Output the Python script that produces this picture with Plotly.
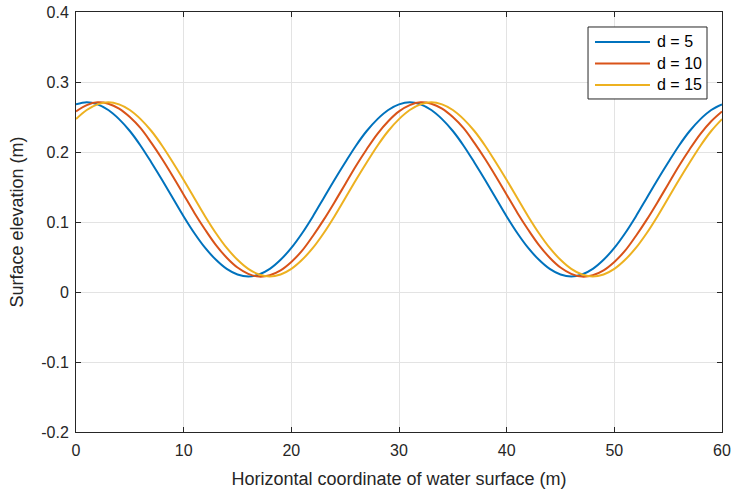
import plotly.graph_objects as go

x = list(range(0, 61))

# d = 5 (crest near x=1, 31)
d5_period = [0.268, 0.271, 0.268, 0.260, 0.247, 0.230, 0.209, 0.185, 0.160, 0.134,
             0.108, 0.084, 0.063, 0.046, 0.033, 0.025, 0.022, 0.025, 0.033, 0.046,
             0.063, 0.084, 0.108, 0.134, 0.160, 0.185, 0.209, 0.230, 0.247, 0.260]
# d = 10 (crest near x=2.2)
d10_period = [0.258, 0.267, 0.271, 0.269, 0.262, 0.250, 0.234, 0.213, 0.190, 0.165,
              0.139, 0.113, 0.089, 0.067, 0.049, 0.035, 0.026, 0.022, 0.024, 0.031,
              0.043, 0.059, 0.080, 0.103, 0.128, 0.154, 0.180, 0.204, 0.226, 0.244]
# d = 15 (crest near x=3)
d15_period = [0.247, 0.260, 0.268, 0.271, 0.268, 0.260, 0.247, 0.230, 0.209, 0.185,
              0.160, 0.134, 0.108, 0.084, 0.063, 0.046, 0.033, 0.025, 0.022, 0.025,
              0.033, 0.046, 0.063, 0.084, 0.108, 0.134, 0.160, 0.185, 0.209, 0.230]

eta_d5 = d5_period + d5_period + [d5_period[0]]
eta_d10 = d10_period + d10_period + [d10_period[0]]
eta_d15 = d15_period + d15_period + [d15_period[0]]

names = ["d = 5", "d = 10", "d = 15"]
colors = ["#0072BD", "#D95319", "#EDB120"]

xticks = [0, 10, 20, 30, 40, 50, 60]
yticks = [-0.2, -0.1, 0, 0.1, 0.2, 0.3, 0.4]
yticktext = ["-0.2", "-0.1", "0", "0.1", "0.2", "0.3", "0.4"]

FONT = "Liberation Sans, Arial, sans-serif"

fig = go.Figure()
for ys, nm, c in zip([eta_d5, eta_d10, eta_d15], names, colors):
    fig.add_trace(go.Scatter(x=x, y=ys, mode="lines", name=nm,
                             line=dict(color=c, width=2, shape="spline")))

axis_common = dict(showline=True, linecolor="#262626", linewidth=1, mirror="ticks",
                   ticks="inside", ticklen=5, tickcolor="#262626", automargin=False,
                   showgrid=True, gridcolor="#e3e3e3", gridwidth=1, zeroline=False,
                   tickfont=dict(family=FONT, size=16, color="#262626"))

# MATLAB-style legend box (paper coordinates)
leg_x0, leg_x1, leg_y0, leg_y1 = 0.7926, 0.9768, 0.7929, 0.9643
line_x0, line_x1, text_x = 0.8034, 0.8885, 0.8963
row_y = [0.9286, 0.8776, 0.8262]

shapes = [dict(type="rect", xref="paper", yref="paper", x0=leg_x0, x1=leg_x1,
               y0=leg_y0, y1=leg_y1, line=dict(color="#262626", width=1),
               fillcolor="white", layer="above")]
annotations = []
for nm, c, ry in zip(names, colors, row_y):
    shapes.append(dict(type="line", xref="paper", yref="paper", x0=line_x0, x1=line_x1,
                       y0=ry, y1=ry, line=dict(color=c, width=2), layer="above"))
    annotations.append(dict(xref="paper", yref="paper", x=text_x, y=ry, text=nm,
                            showarrow=False, xanchor="left", yanchor="middle",
                            font=dict(family=FONT, size=16, color="#000000")))

fig.update_layout(
    width=733, height=495,
    margin=dict(l=76, r=11, t=12, b=63),
    paper_bgcolor="white", plot_bgcolor="white",
    font=dict(family=FONT, color="#262626"),
    xaxis=dict(range=[0, 60], tickvals=xticks, ticklabelstandoff=4,
               title=dict(text="Horizontal coordinate of water surface (m)",
                          font=dict(size=18), standoff=14),
               **axis_common),
    yaxis=dict(range=[-0.2, 0.4], tickvals=yticks, ticktext=yticktext, ticklabelstandoff=3,
               title=dict(text="Surface elevation (m)", font=dict(size=18), standoff=12),
               **axis_common),
    shapes=shapes,
    annotations=annotations,
    showlegend=False,
)

fig.write_html("out.html")
